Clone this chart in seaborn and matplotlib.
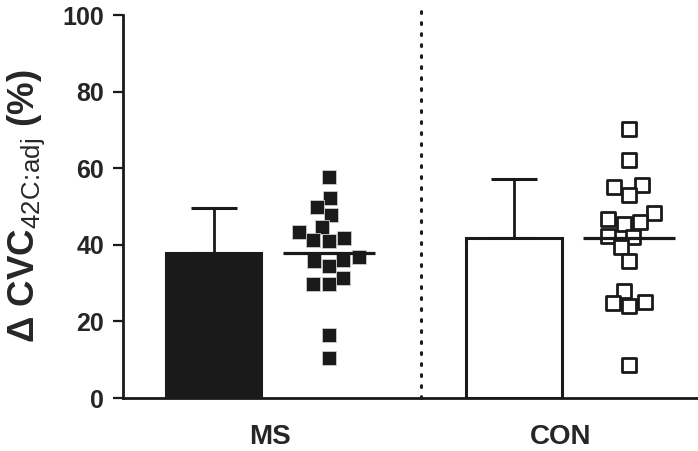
import numpy as np
import pandas as pd
import matplotlib
matplotlib.use("Agg")
import matplotlib.pyplot as plt
import seaborn as sns

# values (%)
groups = ["MS", "CON"]
ms_vals = [57.7, 52.3, 49.9, 47.9, 44.6, 43.3, 41.8, 41.0, 41.2,
           36.9, 35.8, 36.0, 34.4, 31.3, 29.7, 29.7, 16.5, 10.4]
con_vals = [70.3, 62.1, 55.7, 55.1, 53.1, 48.3, 46.0, 46.8, 45.5,
            42.3, 42.1, 39.4, 35.8, 27.9, 24.7, 23.9, 25.1, 8.6]
yticks = [0, 20, 40, 60, 80, 100]

df = pd.DataFrame({
    "group": ["MS"] * len(ms_vals) + ["CON"] * len(con_vals),
    "value": ms_vals + con_vals,
})
stats = df.groupby("group", sort=False)["value"].agg(["mean", "std"])

sns.set_style("ticks")
plt.rcParams["font.family"] = ["Liberation Sans", "DejaVu Sans"]
plt.rcParams["mathtext.fontset"] = "custom"
plt.rcParams["mathtext.rm"] = "Liberation Sans"

fig = plt.figure(figsize=(6.98, 4.51), dpi=100)
ax = fig.add_axes([0.176, 0.1175, 0.824, 0.849])
ax.set_xlim(-0.79, 4.21)
ax.set_ylim(0, 100)

bar_pos = {"MS": 0.0, "CON": 2.61}
dot_off = 1.0
bar_style = {"MS": dict(color="#1a1a1a", edgecolor="#1a1a1a"),
             "CON": dict(color="white", edgecolor="#1a1a1a")}

for g in groups:
    m, s = stats.loc[g, "mean"], stats.loc[g, "std"]
    x = bar_pos[g]
    ax.bar(x, m, width=0.83, linewidth=2.2, zorder=2, **bar_style[g])
    ax.errorbar(x, m, yerr=[[0], [s]], fmt="none", ecolor="#1a1a1a",
                elinewidth=2.0, capsize=16.5, capthick=2.2, zorder=1)
    ax.hlines(m, x + dot_off - 0.4, x + dot_off + 0.4, color="#1a1a1a",
              linewidth=2.3, zorder=4)

ms_df = df[df["group"] == "MS"].assign(pos=bar_pos["MS"] + dot_off)
con_df = df[df["group"] == "CON"].assign(pos=bar_pos["CON"] + dot_off)
sns.swarmplot(data=ms_df, x="pos", y="value", native_scale=True, orient="x",
              marker="s", size=10.3, color="#1a1a1a", edgecolor="#cccccc",
              linewidth=0.6, ax=ax, zorder=3)
sns.swarmplot(data=con_df, x="pos", y="value", native_scale=True, orient="x",
              marker="s", size=9.5, color="white", edgecolor="#1a1a1a",
              linewidth=2.0, ax=ax, zorder=3)

# divider between groups
ax.axvline(1.8, ymin=0, ymax=1.01, color="#1a1a1a", linestyle=(0, (0.6, 3.0)),
           linewidth=2.2, dash_capstyle="round", clip_on=False, zorder=1)

ax.set_xlim(-0.79, 4.21)
ax.set_ylim(0, 100)
ax.set_yticks(yticks)
ax.set_yticklabels([str(t) for t in yticks], fontsize=18, fontweight="bold")
ax.set_xticks([0.49, 3.02])
ax.set_xticklabels(groups, fontsize=20, fontweight="bold")
ax.tick_params(axis="x", length=0, pad=19)
ax.tick_params(axis="y", length=7.5, width=1.6, pad=6, color="#1a1a1a")
ax.set_xlabel("")
ax.set_ylabel("Δ CVC$_{\\mathrm{42C}\\!:\\!\\mathrm{adj}}$ (%)",
              fontsize=26.5, fontweight="bold", labelpad=11)

for side in ["top", "right"]:
    ax.spines[side].set_visible(False)
for side in ["left", "bottom"]:
    ax.spines[side].set_linewidth(2.0)
    ax.spines[side].set_color("#1a1a1a")

fig.savefig("out.png", dpi=100)
